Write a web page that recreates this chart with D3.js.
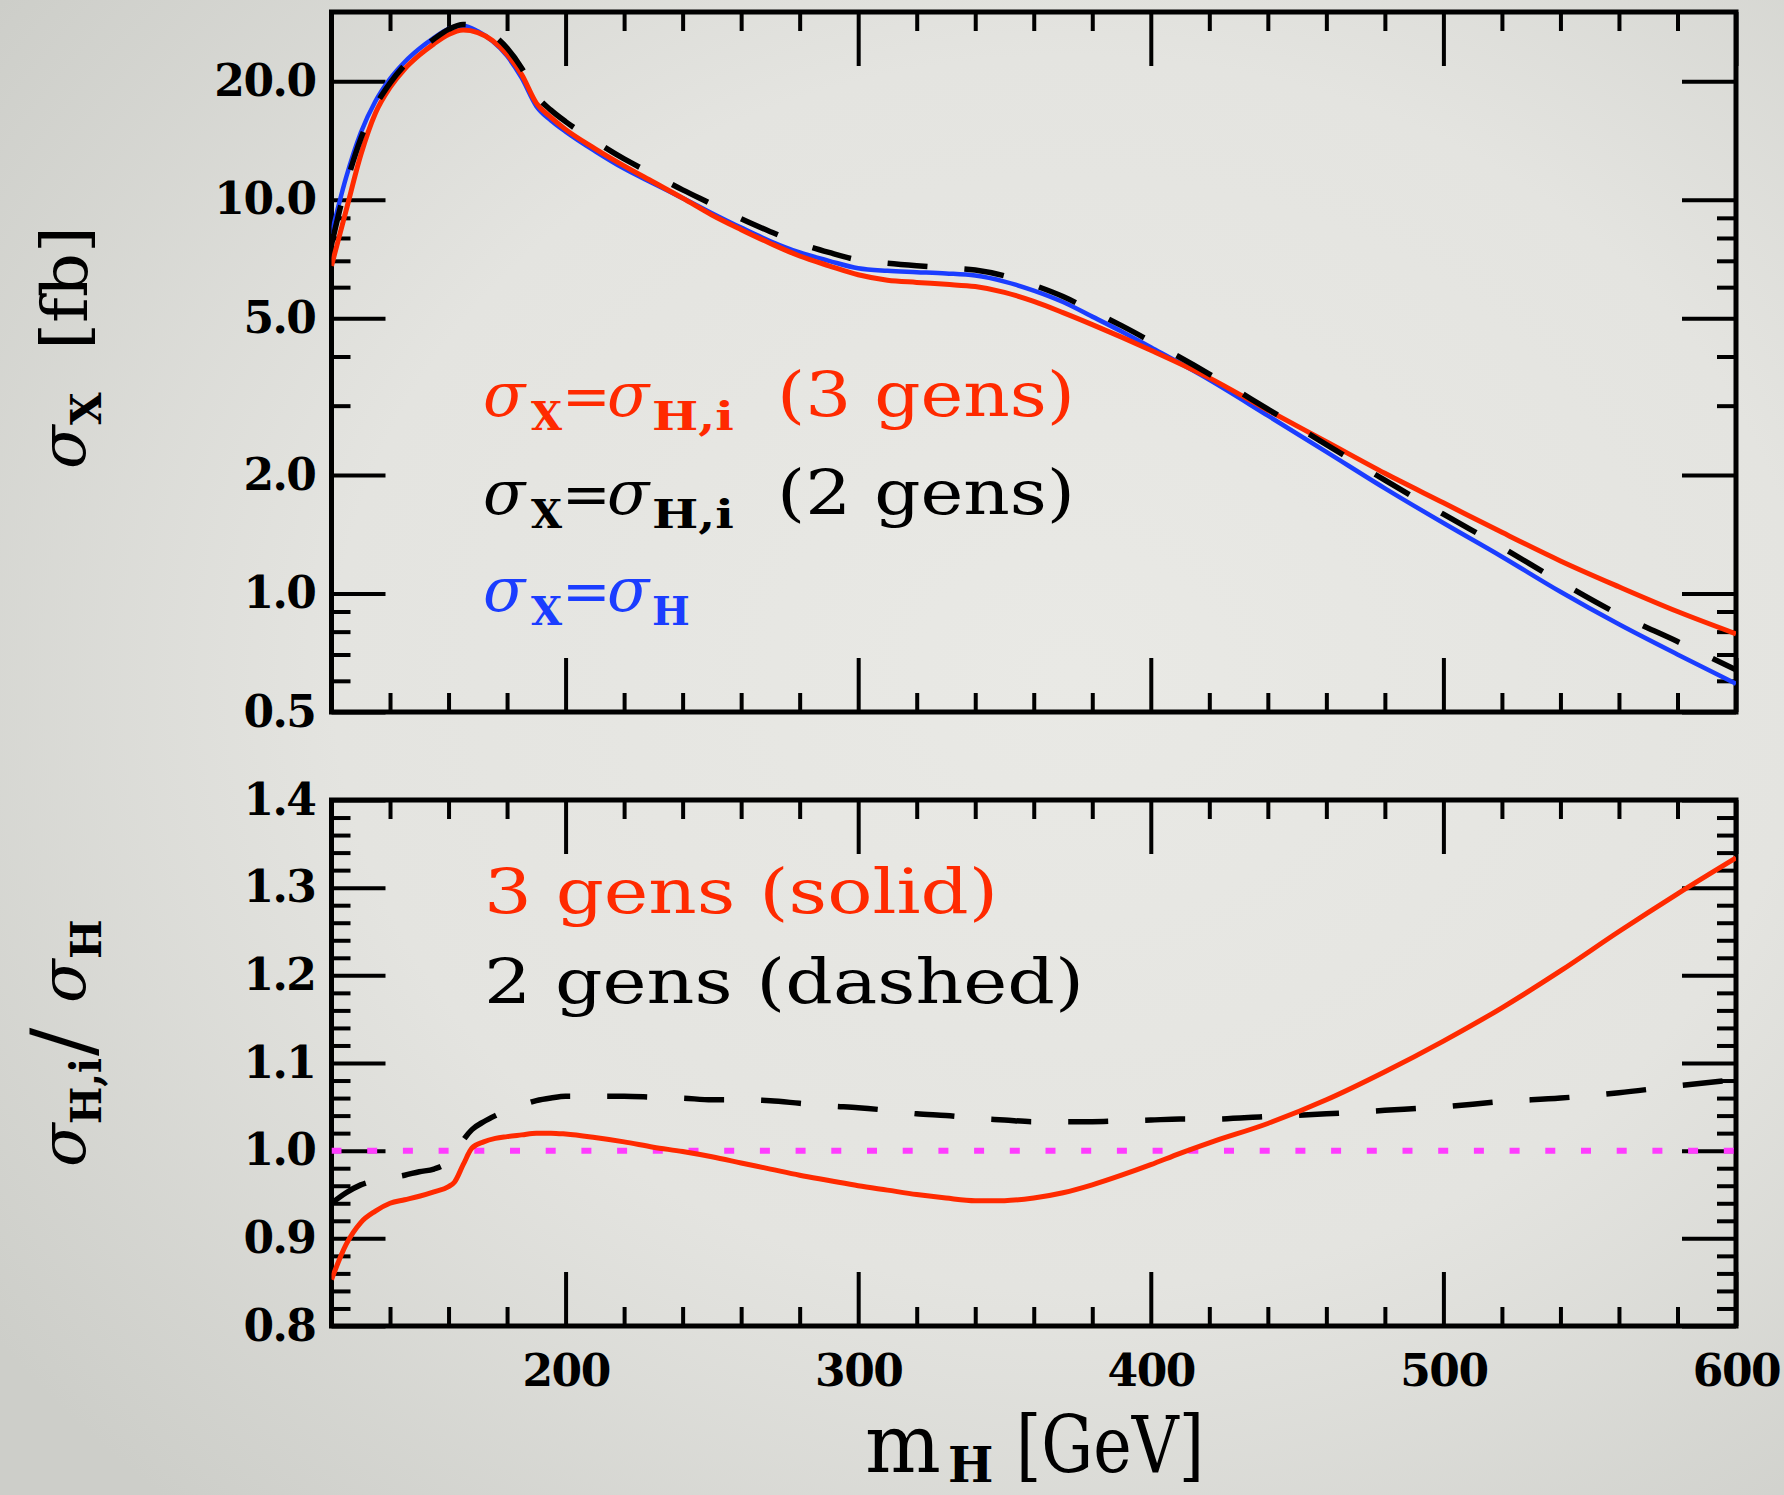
<!DOCTYPE html>
<html>
<head>
<meta charset="utf-8">
<script src="https://cdn.jsdelivr.net/npm/d3@7"></script>
<style>
  html, body { margin: 0; padding: 0; background: #e4e4e0; }
  svg { display: block; }
</style>
</head>
<body>
<svg id="xsecPlot" width="1784" height="1495"></svg>
<script>
// Higgs cross section for 2 / 3 generations, and the ratio to the SM value


// Higgs mass grid for the cross-section curves [GeV]
const mH = [120, 125, 130, 135, 140, 145, 150, 155, 160, 165, 170, 175, 180, 185, 190, 195,
  200, 210, 220, 230, 240, 250, 260, 270, 280, 290, 300, 310, 320, 330, 340, 350, 360, 370,
  380, 390, 400, 420, 440, 460, 480, 500, 520, 540, 560, 580, 600];

// sigma_X [fb] with sigma_X = sigma_H,i (3 gens)
const sigma3gen = [6.8, 9.4, 13.0, 16.6, 19.3, 21.5, 23.3, 24.9, 26.3, 27.0, 26.6, 25.4, 23.4, 20.8, 17.6, 16.2,
  15.1, 13.5, 12.2, 11.1, 10.1, 9.15, 8.4, 7.75, 7.2, 6.8, 6.45, 6.25, 6.17, 6.1, 6.02, 5.82, 5.52, 5.17,
  4.82, 4.48, 4.15, 3.53, 2.92, 2.43, 2.02, 1.7, 1.43, 1.21, 1.04, 0.9, 0.79];

// sigma_X [fb] with sigma_X = sigma_H,i (2 gens)
const sigma2gen = [7.7, 10.9, 14.3, 17.3, 19.8, 22.0, 23.9, 25.6, 27.1, 27.9, 27.5, 26.3, 24.3, 21.6, 18.4, 16.9,
  15.8, 14.1, 12.7, 11.6, 10.6, 9.75, 8.95, 8.3, 7.75, 7.35, 7.03, 6.9, 6.8, 6.72, 6.63, 6.41, 6.07, 5.68,
  5.22, 4.79, 4.37, 3.61, 2.94, 2.39, 1.94, 1.59, 1.31, 1.07, 0.885, 0.755, 0.64];

// sigma_X [fb] with sigma_X = sigma_H (SM)
const sigmaSM = [8.2, 11.4, 14.8, 17.8, 20.3, 22.4, 24.2, 25.8, 27.2, 27.7, 26.8, 25.3, 23.2, 20.4, 17.3, 15.9,
  14.9, 13.3, 12.0, 11.0, 10.1, 9.25, 8.5, 7.85, 7.35, 7.0, 6.7, 6.6, 6.55, 6.5, 6.42, 6.2, 5.88, 5.5,
  5.05, 4.63, 4.22, 3.49, 2.83, 2.29, 1.85, 1.51, 1.24, 1.01, 0.835, 0.7, 0.59];

// Mass grid for the ratio panel [GeV]
const mRatio = [120, 125, 130, 135, 140, 145, 150, 155, 160, 162, 165, 168, 172, 176, 180, 185, 190, 195,
  200, 210, 220, 230, 240, 250, 260, 270, 280, 290, 300, 310, 320, 330, 340, 350, 360, 370, 380,
  390, 400, 410, 420, 440, 460, 480, 500, 520, 540, 560, 580, 600];

// sigma_H,i / sigma_H, 3 gens (solid)
const ratio3gen = [0.853, 0.893, 0.918, 0.931, 0.940, 0.944, 0.948, 0.953, 0.959, 0.964, 0.984, 1.003, 1.010, 1.014,
  1.016, 1.018, 1.020, 1.020, 1.019, 1.015, 1.010, 1.004, 0.999, 0.993, 0.986, 0.979, 0.972, 0.966, 0.960,
  0.955, 0.950, 0.946, 0.943, 0.943, 0.946, 0.952, 0.961, 0.972, 0.984, 0.997, 1.009, 1.031, 1.058, 1.090,
  1.125, 1.163, 1.205, 1.250, 1.293, 1.334];

// sigma_H,i / sigma_H, 2 gens (dashed)
const ratio2gen = [0.940, 0.952, 0.961, 0.966, 0.969, 0.972, 0.976, 0.979, 0.988, 0.996, 1.012, 1.024, 1.033, 1.040,
  1.046, 1.052, 1.057, 1.060, 1.062, 1.062, 1.062, 1.061, 1.060, 1.058, 1.058, 1.057, 1.054, 1.051, 1.049,
  1.046, 1.042, 1.040, 1.037, 1.035, 1.033, 1.033, 1.033, 1.034, 1.035, 1.036, 1.036, 1.039, 1.042, 1.046,
  1.050, 1.056, 1.060, 1.066, 1.074, 1.081];

// Tick values
const xMajor = [200, 300, 400, 500, 600];
const xMinor = [140, 160, 180, 220, 240, 260, 280, 320, 340, 360, 380, 420, 440, 460, 480, 520, 540, 560, 580];
const xsecMajor = [0.5, 1, 2, 5, 10, 20];
const xsecMinor = [0.6, 0.7, 0.8, 0.9, 3, 4, 6, 7, 8, 9];
const ratioMajor = [0.8, 0.9, 1.0, 1.1, 1.2, 1.3, 1.4];
const ratioMinor = d3.range(0.82, 1.4, 0.02).filter(v => Math.abs(v * 10 - Math.round(v * 10)) > 1e-6);


// Plot settings
const def = {
  colour: {red: "#ff2a00", blue: "#1b3dff", black: "#000000", magenta: "#ff3cff"},
  font: "'DejaVu Serif', serif",
  frame: {left: 331.5, right: 1736},
  top: {top: 12, bottom: 712},
  bot: {top: 800, bottom: 1326},
  tick: {major: 54, minor: 19, width: 4},
};

const svg = d3.select("#xsecPlot");

// Scales
const x = d3.scaleLinear().domain([120, 600]).range([def.frame.left, def.frame.right]);
const yTop = d3.scaleLog().domain([0.5, 30]).range([def.top.bottom, def.top.top]);
const yBot = d3.scaleLinear().domain([0.8, 1.4]).range([def.bot.bottom, def.bot.top]);

drawBackground();
drawPanel(def.top, yTop, xsecMajor, xsecMinor, d3.format(".1f"), false, "clipTop");
drawPanel(def.bot, yBot, ratioMajor, ratioMinor, d3.format(".1f"), true, "clipBot");

// -- Cross-section curves -- //
const topLine = d3.line()
  .x(d => x(d[0]))
  .y(d => yTop(d[1]))
  .curve(d3.curveMonotoneX);
const gTop = svg.append("g").attr("clip-path", "url(#clipTop)").attr("fill", "none");
gTop.append("path")
  .attr("d", topLine(d3.zip(mH, sigmaSM)))
  .attr("stroke", def.colour.blue)
  .attr("stroke-width", 4.5);
gTop.append("path")
  .attr("d", topLine(d3.zip(mH, sigma3gen)))
  .attr("stroke", def.colour.red)
  .attr("stroke-width", 5);
gTop.append("path")
  .attr("d", topLine(d3.zip(mH, sigma2gen)))
  .attr("stroke", def.colour.black)
  .attr("stroke-width", 5.5)
  .attr("stroke-dasharray", "40,37");

// -- Ratio curves -- //
const botLine = d3.line()
  .x(d => x(d[0]))
  .y(d => yBot(d[1]))
  .curve(d3.curveMonotoneX);
const gBot = svg.append("g").attr("clip-path", "url(#clipBot)").attr("fill", "none");
gBot.append("line")
  .attr("x1", x(120)).attr("x2", x(600))
  .attr("y1", yBot(1)).attr("y2", yBot(1))
  .attr("stroke", def.colour.magenta)
  .attr("stroke-width", 6)
  .attr("stroke-dasharray", "10,25.7");
gBot.append("path")
  .attr("d", botLine(d3.zip(mRatio, ratio2gen)))
  .attr("stroke", def.colour.black)
  .attr("stroke-width", 5.5)
  .attr("stroke-dasharray", "40,37");
gBot.append("path")
  .attr("d", botLine(d3.zip(mRatio, ratio3gen)))
  .attr("stroke", def.colour.red)
  .attr("stroke-width", 5);

// -- Legends -- //
const legendTop = [
  {fill: def.colour.red, y: 416, tail: "(3 gens)", sub: "H,i"},
  {fill: def.colour.black, y: 514, tail: "(2 gens)", sub: "H,i"},
  {fill: def.colour.blue, y: 611, tail: null, sub: "H"},
];
legendTop.forEach(row => {
  let segs = [
    {t: "σ", x: 483, y: row.y, size: 62, it: true},
    {t: "X", x: 531, y: row.y + 14, size: 40, bold: true},
    {t: "=", x: 562, y: row.y, size: 58},
    {t: "σ", x: 607, y: row.y, size: 62, it: true},
    {t: row.sub, x: 652, y: row.y + 14, size: 40, bold: true, len: row.sub.length > 1 ? 82 : null},
  ];
  if (row.tail) segs.push({t: row.tail, x: 777, y: row.y, size: 62, len: 298});
  richText(svg.append("g").attr("fill", row.fill), segs);
});
richText(svg.append("g").attr("fill", def.colour.red),
  [{t: "3 gens (solid)", x: 484, y: 913, size: 62, len: 514}]);
richText(svg.append("g").attr("fill", def.colour.black),
  [{t: "2 gens (dashed)", x: 484, y: 1003, size: 62, len: 600}]);

// -- Axis titles -- //
richText(svg.append("g").attr("transform", "rotate(-90)"), [
  {t: "σ", x: -469, y: 85, size: 64, it: true},
  {t: "X", x: -425, y: 101, size: 42, bold: true},
  {t: "[fb]", x: -350, y: 87, size: 64, len: 124},
]);
richText(svg.append("g").attr("transform", "rotate(-90)"), [
  {t: "σ", x: -1167, y: 85, size: 64, it: true},
  {t: "H,i", x: -1124, y: 101, size: 42, bold: true, len: 66},
  {t: "/", x: -1056, y: 91, size: 84},
  {t: "σ", x: -1003, y: 85, size: 64, it: true},
  {t: "H", x: -959, y: 101, size: 42, bold: true},
]);
richText(svg.append("g"), [
  {t: "m", x: 865, y: 1472, size: 80},
  {t: "H", x: 948, y: 1482, size: 48, bold: true},
  {t: "[GeV]", x: 1016, y: 1472, size: 78, len: 188},
]);


// -- Function definitions -- //


// Soft grey backdrop, darker towards the edges
function drawBackground() {
  let grad = svg.append("defs").append("radialGradient")
    .attr("id", "bgGrad")
    .attr("cx", "60%").attr("cy", "45%").attr("r", "75%");
  grad.append("stop").attr("offset", "0%").attr("stop-color", "#e9e9e5");
  grad.append("stop").attr("offset", "55%").attr("stop-color", "#e4e4e0");
  grad.append("stop").attr("offset", "100%").attr("stop-color", "#cdcec9");
  svg.append("rect")
    .attr("width", 1784).attr("height", 1495)
    .attr("fill", "url(#bgGrad)");
}

// Frame, inward ticks on all four sides, and labels on left (and bottom)
function drawPanel(box, y, yMajor, yMinor, fmt, xLabels, clipId) {
  let t = def.tick;
  svg.select("defs").append("clipPath").attr("id", clipId)
    .append("rect")
    .attr("x", def.frame.left).attr("y", box.top)
    .attr("width", def.frame.right - def.frame.left)
    .attr("height", box.bottom - box.top);
  let g = svg.append("g");
  let axes = [
    [d3.axisBottom(x).tickValues(xMajor).tickSize(-t.major), `translate(0,${box.bottom})`, xLabels],
    [d3.axisBottom(x).tickValues(xMinor).tickSize(-t.minor), `translate(0,${box.bottom})`, false],
    [d3.axisTop(x).tickValues(xMajor).tickSize(-t.major), `translate(0,${box.top})`, false],
    [d3.axisTop(x).tickValues(xMinor).tickSize(-t.minor), `translate(0,${box.top})`, false],
    [d3.axisLeft(y).tickValues(yMajor).tickSize(-t.major), `translate(${def.frame.left},0)`, true],
    [d3.axisLeft(y).tickValues(yMinor).tickSize(-t.minor), `translate(${def.frame.left},0)`, false],
    [d3.axisRight(y).tickValues(yMajor).tickSize(-t.major), `translate(${def.frame.right},0)`, false],
    [d3.axisRight(y).tickValues(yMinor).tickSize(-t.minor), `translate(${def.frame.right},0)`, false],
  ];
  axes.forEach(([axis, transform, labelled], i) => {
    let isX = i < 4;
    if (labelled) {
      axis.tickFormat(isX ? d3.format("d") : fmt).tickPadding(isX ? 29 : 16);
    } else {
      axis.tickFormat("");
    }
    let a = g.append("g").attr("transform", transform).call(axis);
    a.select(".domain").remove();
    a.selectAll(".tick line")
      .attr("stroke", "#000")
      .attr("stroke-width", t.width);
    a.selectAll(".tick text")
      .attr("fill", "#000")
      .attr("font-family", def.font)
      .attr("font-weight", "bold")
      .attr("font-size", 44)
      .attr("letter-spacing", -1.5);
  });
  g.append("rect")
    .attr("x", def.frame.left).attr("y", box.top)
    .attr("width", def.frame.right - def.frame.left)
    .attr("height", box.bottom - box.top)
    .attr("fill", "none")
    .attr("stroke", "#000")
    .attr("stroke-width", 5);
}

// Text made of separately placed pieces (symbols, subscripts, words)
function richText(g, segs) {
  segs.forEach(s => {
    let txt = g.append("text")
      .attr("x", s.x)
      .attr("y", s.y)
      .attr("font-family", def.font)
      .attr("font-size", s.size)
      .attr("font-style", s.it ? "italic" : "normal")
      .attr("font-weight", s.bold ? "bold" : "normal")
      .text(s.t);
    if (s.len) {
      txt.attr("textLength", s.len).attr("lengthAdjust", "spacingAndGlyphs");
    }
  });
}
</script>
</body>
</html>
